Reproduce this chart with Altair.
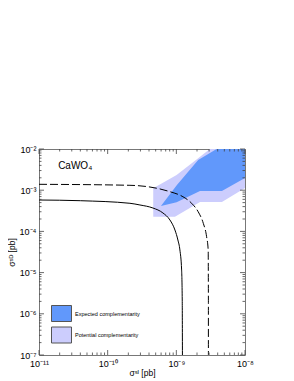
import altair as alt
import pandas as pd
import math

# ---------------- data ----------------
# exclusion curves (sigma_SI [pb], sigma_SD [pb])
solid_si = [1e-11, 4.0e-11, 2.11e-10, 2.95e-10, 4.56e-10, 6.38e-10, 8.07e-10, 9.55e-10,
            1.054e-9, 1.127e-9, 1.194e-9, 1.219e-9, 1.227e-9]
solid_sd = [5.78e-4, 5.56e-4, 4.81e-4, 4.38e-4, 3.70e-4, 2.80e-4, 1.89e-4, 1.08e-4,
            6.18e-5, 3.54e-5, 1.16e-5, 2.16e-6, 1e-7]

dashed_si = [1e-11, 2.11e-10, 8.07e-10, 1.247e-9, 1.671e-9, 2.08e-9, 2.47e-9, 2.76e-9,
             2.91e-9, 2.93e-9, 2.93e-9]
dashed_sd = [1.39e-3, 1.315e-3, 9.2e-4, 6.95e-4, 4.81e-4, 3.0e-4, 1.57e-4, 7.43e-5,
             3.54e-5, 2.16e-6, 1e-7]

# complementarity regions (polygon vertices)
potential_si = [4.61e-10, 1.009e-9, 2.08e-9, 3.08e-9, 1e-8, 1e-8, 4.61e-9, 2.21e-9, 9.55e-10, 4.61e-10]
potential_sd = [1.11e-3, 2.34e-3, 5.94e-3, 1e-2, 1e-2, 1.13e-3, 5.18e-4, 5.18e-4, 2.28e-4, 2.28e-4]

expected_si = [5.97e-10, 1.02e-9, 2.08e-9, 3.86e-9, 1e-8, 1e-8, 4.61e-9, 2.21e-9, 1.009e-9]
expected_sd = [4.14e-4, 1.34e-3, 5.41e-3, 1e-2, 1e-2, 1.98e-3, 9.57e-4, 9.57e-4, 5.08e-4]

region_names = ["Expected complementarity", "Potential complementarity"]
region_colors = ["#6198fb", "#cccdfd"]

x_decades = [1e-11, 1e-10, 1e-9, 1e-8]
x_labels = ["10⁻¹¹", "10⁻¹⁰", "10⁻⁹", "10⁻⁸"]
y_decades = [1e-7, 1e-6, 1e-5, 1e-4, 1e-3, 1e-2]
y_labels = ["10⁻⁷", "10⁻⁶", "10⁻⁵", "10⁻⁴", "10⁻³", "10⁻²"]

annotation = "CaWO₄"
annotation_pos = (1.9e-11, 3.3e-3)

# ---------------- build tables ----------------
def poly(xs, ys, name):
    return pd.DataFrame({"si": xs, "sd": ys, "i": range(len(xs)), "kind": name})

df_pot = poly(potential_si, potential_sd, region_names[1])
df_exp = poly(expected_si, expected_sd, region_names[0])
df_solid = pd.DataFrame({"si": solid_si, "sd": solid_sd, "i": range(len(solid_si))})
df_dash = pd.DataFrame({"si": dashed_si, "sd": dashed_sd, "i": range(len(dashed_si))})
df_txt = pd.DataFrame({"si": [annotation_pos[0]], "sd": [annotation_pos[1]], "t": [annotation]})

W, H = 206, 206
FONT = "Liberation Sans"
MAJOR, MINOR = 5, 2.5
TICK_COLOR = "#444"

def minor_values(decades):
    vals = []
    for d in decades[:-1]:
        for m in range(2, 10):
            vals.append(m * d)
    return vals

def label_expr(decades, labels):
    expr = "''"
    for d, l in zip(reversed(decades), reversed(labels)):
        e = round(math.log10(d))
        expr = f"round(log(datum.value)/LN10) == {e} ? '{l}' : ({expr})"
    return expr

xscale = alt.Scale(type="log", domain=[1e-11, 1e-8], nice=False)
yscale = alt.Scale(type="log", domain=[1e-7, 1e-2], nice=False)

label_x_axis = alt.Axis(values=x_decades, labelExpr=label_expr(x_decades, x_labels),
                        ticks=False, domain=False, grid=False, labelFont=FONT,
                        labelFontSize=9, labelColor="#000", labelPadding=4,
                        title="σˢᴵ [pb]", titleFont=FONT, titleFontSize=8.5,
                        titleFontWeight="normal", titleColor="#000", titlePadding=0,
                        labelFlush=False)
label_y_axis = alt.Axis(values=y_decades, labelExpr=label_expr(y_decades, y_labels),
                        ticks=False, domain=False, grid=False, labelFont=FONT,
                        labelFontSize=9, labelColor="#000", labelPadding=3,
                        title="σˢᴰ [pb]", titleFont=FONT, titleFontSize=8.5,
                        titleFontWeight="normal", titleColor="#000", titlePadding=3,
                        labelFlush=False)

color = alt.Color("kind:N",
                  scale=alt.Scale(domain=region_names, range=region_colors),
                  legend=alt.Legend(title=None, orient="none", legendX=12, legendY=154,
                                    symbolType="M-1,-0.8H1V0.8H-1Z", symbolSize=400,
                                    symbolStrokeColor="#555", symbolStrokeWidth=1,
                                    symbolOpacity=1,
                                    labelFont=FONT, labelFontSize=5.5, labelColor="#000",
                                    labelOffset=3, rowPadding=0.5, padding=0))

pot = alt.Chart(df_pot).mark_line(interpolate="linear-closed", filled=True,
                                  strokeWidth=0).encode(
    x=alt.X("si:Q", scale=xscale, axis=label_x_axis),
    y=alt.Y("sd:Q", scale=yscale, axis=label_y_axis),
    order="i:Q", color=color)

exp = alt.Chart(df_exp).mark_line(interpolate="linear-closed", filled=True,
                                  strokeWidth=0).encode(
    x=alt.X("si:Q", scale=xscale),
    y=alt.Y("sd:Q", scale=yscale),
    order="i:Q", color=color)

solid = alt.Chart(df_solid).mark_line(color="#000", strokeWidth=1,
                                      interpolate="monotone").encode(
    x=alt.X("si:Q", scale=xscale),
    y=alt.Y("sd:Q", scale=yscale),
    order="i:Q")

dashed = alt.Chart(df_dash).mark_line(color="#000", strokeWidth=1, strokeDash=[8, 3],
                                      interpolate="monotone").encode(
    x=alt.X("si:Q", scale=xscale),
    y=alt.Y("sd:Q", scale=yscale),
    order="i:Q")

txt = alt.Chart(df_txt).mark_text(align="left", baseline="alphabetic", font=FONT,
                                  fontSize=10, color="#000").encode(
    x=alt.X("si:Q", scale=xscale),
    y=alt.Y("sd:Q", scale=yscale),
    text="t:N")

# inward tick marks on all four sides (positions from the log scales)
df_xmaj = pd.DataFrame({"v": x_decades})
df_xmin = pd.DataFrame({"v": minor_values(x_decades)})
df_ymaj = pd.DataFrame({"v": y_decades})
df_ymin = pd.DataFrame({"v": minor_values(y_decades)})

def xticks(df, size, top):
    y0 = 0 if top else H
    y1 = size if top else H - size
    return alt.Chart(df).mark_rule(color=TICK_COLOR, strokeWidth=0.8).encode(
        x=alt.X("v:Q", scale=xscale), y=alt.value(y0), y2=alt.value(y1))

def yticks(df, size, right):
    x0 = W if right else 0
    x1 = W - size if right else size
    return alt.Chart(df).mark_rule(color=TICK_COLOR, strokeWidth=0.8).encode(
        y=alt.Y("v:Q", scale=yscale), x=alt.value(x0), x2=alt.value(x1))

ticks = [xticks(df_xmaj, MAJOR, False), xticks(df_xmin, MINOR, False),
         xticks(df_xmaj, MAJOR, True), xticks(df_xmin, MINOR, True),
         yticks(df_ymaj, MAJOR, False), yticks(df_ymin, MINOR, False),
         yticks(df_ymaj, MAJOR, True), yticks(df_ymin, MINOR, True)]

chart = alt.layer(pot, exp, solid, dashed, txt, *ticks).properties(
    width=W, height=H,
    autosize=alt.AutoSizeParams(type="none"),
    padding={"left": 31, "top": 141, "right": 10, "bottom": 26},
).configure_view(stroke="#777", strokeWidth=1)

chart.save("out.html", embed_options={"renderer": "svg", "actions": False})
